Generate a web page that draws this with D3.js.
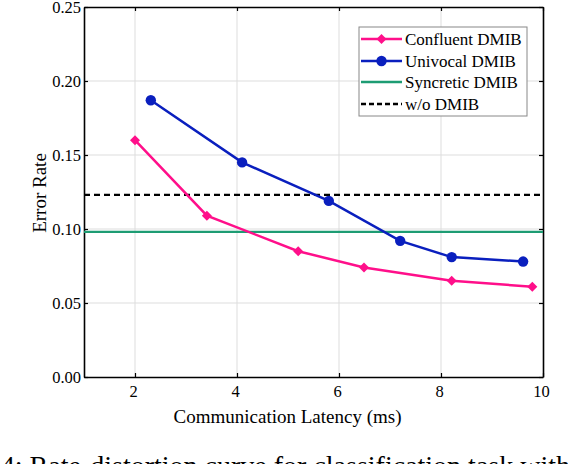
<!DOCTYPE html>
<html>
<head>
<meta charset="utf-8">
<script src="https://cdn.jsdelivr.net/npm/d3@7"></script>
<style>
  body { margin: 0; background: #fff; }
  svg { font-family: "Liberation Serif", "Times New Roman", serif; }
</style>
</head>
<body>
<div id="chart"></div>
<script>
// data
var latencyConfluent = [2.0, 3.41, 5.20, 6.49, 8.21, 9.79];
var errorConfluent = [0.160, 0.109, 0.085, 0.074, 0.065, 0.061];
var latencyUnivocal = [2.31, 4.10, 5.80, 7.20, 8.21, 9.61];
var errorUnivocal = [0.187, 0.145, 0.119, 0.092, 0.081, 0.078];
var errorSyncretic = 0.098;
var errorWithout = 0.123;
var xTicks = [2, 4, 6, 8, 10];
var yTicks = [0, 0.05, 0.10, 0.15, 0.20, 0.25];
var legendNames = ["Confluent DMIB", "Univocal DMIB", "Syncretic DMIB", "w/o DMIB"];

drawChart();

function drawChart() {
    var width = 568, height = 464;
    var left = 84, right = 543, top = 7, bottom = 377;

    var pink = "#ff0f8a", blue = "#0a1fbe", green = "#1d9c73";

    var svg = d3.select("#chart")
        .append("svg")
        .attr("width", width)
        .attr("height", height);

    var x = d3.scaleLinear().domain([1, 10]).range([left, right]);
    var y = d3.scaleLinear().domain([0, 0.25]).range([bottom, top]);

    //grid
    svg.append("g").selectAll("line.gx")
        .data(xTicks.filter(function(d) { return d < 10; }))
        .enter().append("line")
        .attr("x1", function(d) { return x(d); })
        .attr("x2", function(d) { return x(d); })
        .attr("y1", top).attr("y2", bottom)
        .attr("stroke", "#dddddd").attr("stroke-width", 1);
    svg.append("g").selectAll("line.gy")
        .data(yTicks.filter(function(d) { return d > 0 && d < 0.25; }))
        .enter().append("line")
        .attr("y1", function(d) { return y(d); })
        .attr("y2", function(d) { return y(d); })
        .attr("x1", left).attr("x2", right)
        .attr("stroke", "#dddddd").attr("stroke-width", 1);

    //axes, ticks pointing inwards like matlab
    var axB = svg.append("g").attr("transform", "translate(0," + bottom + ")")
        .call(d3.axisBottom(x).tickValues(xTicks).tickSizeInner(-4).tickSizeOuter(0).tickPadding(8));
    var axT = svg.append("g").attr("transform", "translate(0," + top + ")")
        .call(d3.axisTop(x).tickValues(xTicks).tickSizeInner(-4).tickSizeOuter(0).tickFormat(""));
    var axL = svg.append("g").attr("transform", "translate(" + left + ",0)")
        .call(d3.axisLeft(y).tickValues(yTicks).tickSizeInner(-4).tickSizeOuter(0).tickPadding(3)
            .tickFormat(d3.format(".2f")));
    var axR = svg.append("g").attr("transform", "translate(" + right + ",0)")
        .call(d3.axisRight(y).tickValues(yTicks).tickSizeInner(-4).tickSizeOuter(0).tickFormat(""));

    [axB, axT, axL, axR].forEach(function(a) {
        a.attr("font-family", null);
        a.select(".domain").attr("stroke", "#000").attr("stroke-width", 1.6);
        a.selectAll(".tick line").attr("stroke", "#000").attr("stroke-width", 1.2);
        a.selectAll("text").attr("font-size", 16.5).attr("fill", "#000");
    });
    axB.selectAll("text").attr("dx", -2);

    //reference lines
    svg.append("line")
        .attr("x1", left).attr("x2", right)
        .attr("y1", y(errorSyncretic)).attr("y2", y(errorSyncretic))
        .attr("stroke", green).attr("stroke-width", 2.2);
    svg.append("line")
        .attr("x1", left).attr("x2", right)
        .attr("y1", y(errorWithout)).attr("y2", y(errorWithout))
        .attr("stroke", "#000").attr("stroke-width", 2.2)
        .attr("stroke-dasharray", "6,4");

    var confluent = latencyConfluent.map(function(d, i) { return [d, errorConfluent[i]]; });
    var univocal = latencyUnivocal.map(function(d, i) { return [d, errorUnivocal[i]]; });

    var line = d3.line()
        .x(function(d) { return x(d[0]); })
        .y(function(d) { return y(d[1]); });

    svg.append("path").datum(univocal)
        .attr("d", line).attr("fill", "none")
        .attr("stroke", blue).attr("stroke-width", 2.5);
    svg.append("g").selectAll("circle")
        .data(univocal).enter().append("circle")
        .attr("cx", function(d) { return x(d[0]); })
        .attr("cy", function(d) { return y(d[1]); })
        .attr("r", 5.2)
        .attr("fill", blue);

    svg.append("path").datum(confluent)
        .attr("d", line).attr("fill", "none")
        .attr("stroke", pink).attr("stroke-width", 2.5);
    var diamond = d3.symbol().type(d3.symbolDiamond2).size(64);
    svg.append("g").selectAll("path")
        .data(confluent).enter().append("path")
        .attr("d", diamond)
        .attr("transform", function(d) { return "translate(" + x(d[0]) + "," + y(d[1]) + ")"; })
        .attr("fill", pink);

    //legend
    var lg = svg.append("g");
    lg.append("rect")
        .attr("x", 359).attr("y", 27)
        .attr("width", 168).attr("height", 89)
        .attr("fill", "#fff").attr("stroke", "#888").attr("stroke-width", 1);
    var rows = [39, 61, 82, 104];
    legendNames.forEach(function(name, i) {
        var ry = rows[i];
        var ln = lg.append("line")
            .attr("x1", 361).attr("x2", 402)
            .attr("y1", ry).attr("y2", ry)
            .attr("stroke-width", 2.3);
        if (i == 0) ln.attr("stroke", pink);
        if (i == 1) ln.attr("stroke", blue);
        if (i == 2) ln.attr("stroke", green);
        if (i == 3) ln.attr("stroke", "#000").attr("stroke-dasharray", "5,3");
        if (i == 0) {
            lg.append("path").attr("d", diamond)
                .attr("transform", "translate(381.5," + ry + ")")
                .attr("fill", pink);
        }
        if (i == 1) {
            lg.append("circle").attr("cx", 381.5).attr("cy", ry).attr("r", 5.2).attr("fill", blue);
        }
        lg.append("text")
            .attr("x", 405).attr("y", ry + 6)
            .attr("font-size", 17)
            .text(name);
    });

    //axis titles
    svg.append("text")
        .attr("x", (left + right) / 2 - 26).attr("y", 423)
        .attr("text-anchor", "middle")
        .attr("font-size", 19)
        .text("Communication Latency (ms)");
    svg.append("text")
        .attr("transform", "translate(46,193) rotate(-90)")
        .attr("text-anchor", "middle")
        .attr("font-size", 19)
        .text("Error Rate");

    //caption, cut off by the crop
    svg.append("text")
        .attr("x", 570).attr("y", 475)
        .attr("text-anchor", "end")
        .attr("font-size", 28)
        .text("Figure 4: Rate-distortion curve for classification task with");
}
</script>
</body>
</html>
